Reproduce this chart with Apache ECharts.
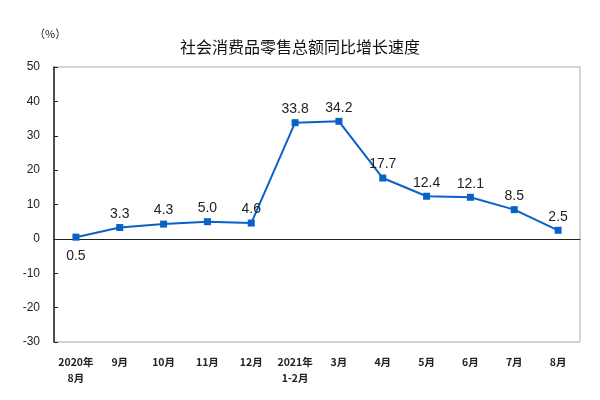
<!DOCTYPE html>
<html><head><meta charset="utf-8">
<script src="https://cdn.jsdelivr.net/npm/echarts@6/dist/echarts.min.js"></script>
<style>html,body{margin:0;padding:0;background:#fff}#c{width:600px;height:400px}</style>
</head><body><div id="c"></div>
<script>
var categories = ['2020年\n8月','9月','10月','11月','12月','2021年\n1-2月','3月','4月','5月','6月','7月','8月'];
var growth = [0.5,3.3,4.3,5.0,4.6,33.8,34.2,17.7,12.4,12.1,8.5,2.5];
var yTicks = {min:-30, max:50, interval:10};
var chart = echarts.init(document.getElementById('c'));
var seriesData = growth.map(function(v,i){ return i===0 ? {value:v,label:{position:'bottom',distance:8}} : v; });
chart.setOption({
  animation:false,
  backgroundColor:'#fff',
  title:{text:'社会消费品零售总额同比增长速度',left:'center',top:34,
    textStyle:{fontFamily:'Noto Sans CJK SC',fontSize:16,fontWeight:'normal',color:'#111'}},
  graphic:[{type:'text',left:34,top:28,style:{text:'（%）',font:'11px "Noto Sans CJK SC"',fill:'#222'}}],
  grid:{left:54,right:20,top:67,bottom:58,show:true,borderColor:'#a8a8a8',borderWidth:1},
  xAxis:{type:'category',data:categories,boundaryGap:true,
    axisLine:{onZero:true,lineStyle:{color:'#222',width:1}},
    axisTick:{inside:true,length:4,lineStyle:{color:'#222'}},
    axisLabel:{interval:0,color:'#222',fontFamily:'Noto Sans CJK SC',fontWeight:'bold',fontSize:10.5,lineHeight:16,
      margin:12}},
  yAxis:{type:'value',min:yTicks.min,max:yTicks.max,interval:yTicks.interval,
    axisLine:{show:true,lineStyle:{color:'#222',width:1.5}},
    axisTick:{show:true,inside:true,length:4,lineStyle:{color:'#222'}},
    splitLine:{show:false},
    axisLabel:{color:'#222',fontFamily:'Liberation Sans',fontSize:12,margin:14}},
  series:[{type:'line',data:seriesData,symbol:'rect',symbolSize:7,
    lineStyle:{color:'#0a62c8',width:2},itemStyle:{color:'#0a62c8'},
    label:{show:true,position:'top',distance:3,color:'#222',fontFamily:'Liberation Sans',fontSize:14,
      formatter:function(p){return p.value.toFixed(1);}}}]
});
</script></body></html>
